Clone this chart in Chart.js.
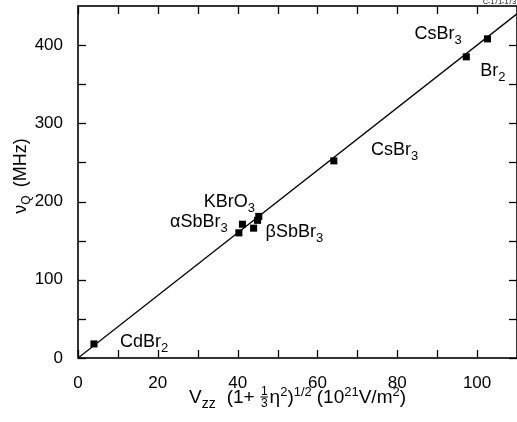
<!DOCTYPE html>
<html>
<head>
<meta charset="utf-8">
<script src="https://cdn.jsdelivr.net/npm/chart.js@4.4.1/dist/chart.umd.min.js"></script>
<style>
  html, body { margin: 0; padding: 0; background: #fff; }
  #chart { display: block; }
</style>
</head>
<body>
<canvas id="chart" width="517" height="422"></canvas>
<script>
'use strict';

// ── Datos ────────────────────────────────────────────────────────────────────
const compounds = ['CdBr2', 'aSbBr3', 'aSbBr3', 'bSbBr3', 'bSbBr3', 'KBrO3', 'CsBr3', 'Br2', 'CsBr3'];
const vzzValues = [4.0, 40.3, 41.2, 44.0, 45.0, 45.3, 64.1, 97.3, 102.6];
const nuQValues = [18, 160, 171, 166, 176, 181, 252, 385, 408];

// recta de ajuste
const fitX = [0, 110];
const fitY = [0, 440];

const xTicks = [0, 20, 40, 60, 80, 100];
const xMinor = [10, 30, 50, 70, 90];
const yTicks = [0, 100, 200, 300, 400];
const yMinor = [50, 150, 250, 350];

// Etiquetas de compuestos (texto, subíndice, ancla en unidades de datos)
const labelNames = ['CdBr', 'αSbBr', 'βSbBr', 'KBrO', 'CsBr', 'Br', 'CsBr'];
const labelSubs  = ['2', '3', '3', '3', '3', '2', '3'];
const labelX     = [10.5, 37.5, 47.0, 31.5, 73.4, 100.8, 84.3];
const labelY     = [14, 168, 155, 193, 259, 361, 408];
const labelAlign = ['left', 'right', 'left', 'left', 'left', 'left', 'left'];

const FONT = '"Liberation Sans", Arial, Helvetica, sans-serif';

// ── Texto con sub/superíndices ───────────────────────────────────────────────
function drawRich(ctx, parts, x, y, align) {
  let w = 0;
  parts.forEach(p => {
    ctx.font = `${p.size}px ${FONT}`;
    if (p.frac) p.w = Math.max(ctx.measureText(p.frac[0]).width, ctx.measureText(p.frac[1]).width) + 2;
    else p.w = ctx.measureText(p.t).width;
    w += p.w + (p.gap || 0);
  });
  let cx = align === 'right' ? x - w : align === 'center' ? x - w / 2 : x;
  ctx.textAlign = 'left';
  ctx.textBaseline = 'alphabetic';
  parts.forEach(p => {
    ctx.font = `${p.size}px ${FONT}`;
    if (p.frac) {
      ctx.textAlign = 'center';
      ctx.fillText(p.frac[0], cx + p.w / 2, y - 8);
      ctx.fillText(p.frac[1], cx + p.w / 2, y + 4);
      ctx.fillRect(cx + 0.5, y - 6.5, p.w - 1, 1);
      ctx.textAlign = 'left';
    } else {
      ctx.fillText(p.t, cx, y + (p.dy || 0));
    }
    cx += p.w + (p.gap || 0);
  });
}

const xTitle = [
  { t: 'V', size: 19 }, { t: 'zz', size: 14, dy: 5, gap: 11 },
  { t: '(1+ ', size: 19 }, { frac: ['1', '3'], size: 12, gap: 1 }, { t: 'η', size: 19 },
  { t: '2', size: 13, dy: -7 }, { t: ')', size: 19 }, { t: '1/2', size: 13, dy: -7, gap: 5 },
  { t: '(10', size: 19 }, { t: '21', size: 13, dy: -7 }, { t: 'V/m', size: 19 },
  { t: '2', size: 13, dy: -7 }, { t: ')', size: 19 },
];
const yTitle = [
  { t: 'ν', size: 18 }, { t: 'Q', size: 12, dy: 4, gap: 8 }, { t: '(MHz)', size: 18 },
];

// ── Plugin: marco, ticks interiores, rótulos ─────────────────────────────────
const framePlugin = {
  id: 'frame',
  afterDraw(chart) {
    const { ctx, chartArea: a, scales: { x, y } } = chart;
    ctx.save();
    ctx.strokeStyle = '#000';
    ctx.fillStyle = '#000';
    ctx.lineWidth = 1.6;
    ctx.strokeRect(a.left, a.top, a.right - a.left, a.bottom - a.top);
    const L = 8;
    const seg = (x0, y0, x1, y1) => { ctx.beginPath(); ctx.moveTo(x0, y0); ctx.lineTo(x1, y1); ctx.stroke(); };
    ctx.lineWidth = 1.3;
    [...xTicks, ...xMinor].forEach(v => {
      const px = Math.round(x.getPixelForValue(v)) + 0.5;
      seg(px, a.bottom, px, a.bottom - L);
      seg(px, a.top, px, a.top + L);
    });
    [...yTicks, ...yMinor].forEach(v => {
      const py = Math.round(y.getPixelForValue(v)) + 0.5;
      seg(a.left, py, a.left + L, py);
      seg(a.right, py, a.right - L, py);
    });

    // etiquetas de compuestos
    labelNames.forEach((name, i) => {
      drawRich(ctx, [{ t: name, size: 18 }, { t: labelSubs[i], size: 13, dy: 5 }],
        x.getPixelForValue(labelX[i]), y.getPixelForValue(labelY[i]), labelAlign[i]);
    });

    // títulos de ejes
    drawRich(ctx, xTitle, (a.left + a.right) / 2, 403, 'center');
    ctx.save();
    ctx.translate(26, 176);
    ctx.rotate(-Math.PI / 2);
    drawRich(ctx, yTitle, 0, 0, 'center');
    ctx.restore();

    // código de figura
    ctx.font = `7px ${FONT}`;
    ctx.textAlign = 'left';
    ctx.textBaseline = 'bottom';
    ctx.fillText('C-171-173', 483, 6);
    ctx.restore();
  },
};

new Chart(document.getElementById('chart'), {
  type: 'scatter',
  data: {
    datasets: [
      {
        label: 'ajuste',
        type: 'line',
        data: fitX.map((v, i) => ({ x: v, y: fitY[i] })),
        borderColor: '#000',
        borderWidth: 1.3,
        pointRadius: 0,
        fill: false,
      },
      {
        label: 'compuestos',
        data: vzzValues.map((v, i) => ({ x: v, y: nuQValues[i] })),
        pointStyle: 'rect',
        pointRadius: 5,
        borderWidth: 0,
        backgroundColor: '#000',
      },
    ],
  },
  options: {
    responsive: false,
    animation: false,
    devicePixelRatio: 1,
    layout: { autoPadding: false, padding: { top: 6, right: 0, left: 0, bottom: 0 } },
    plugins: { legend: { display: false }, tooltip: { enabled: false } },
    scales: {
      x: {
        type: 'linear',
        min: 0, max: 110,
        afterBuildTicks: s => { s.ticks = xTicks.map(v => ({ value: v })); },
        afterFit: s => { s.height = 64; s.paddingLeft = 0; s.paddingRight = 0; },
        grid: { display: false },
        border: { display: false },
        ticks: { color: '#000', font: { size: 17, family: FONT }, padding: 7, maxRotation: 0 },
      },
      y: {
        type: 'linear',
        min: 0, max: 450,
        afterBuildTicks: s => { s.ticks = yTicks.map(v => ({ value: v })); },
        afterFit: s => { s.width = 78; s.paddingTop = 0; s.paddingBottom = 0; },
        grid: { display: false },
        border: { display: false },
        ticks: { color: '#000', font: { size: 17, family: FONT }, padding: 7 },
      },
    },
  },
  plugins: [framePlugin],
});
</script>
</body>
</html>
